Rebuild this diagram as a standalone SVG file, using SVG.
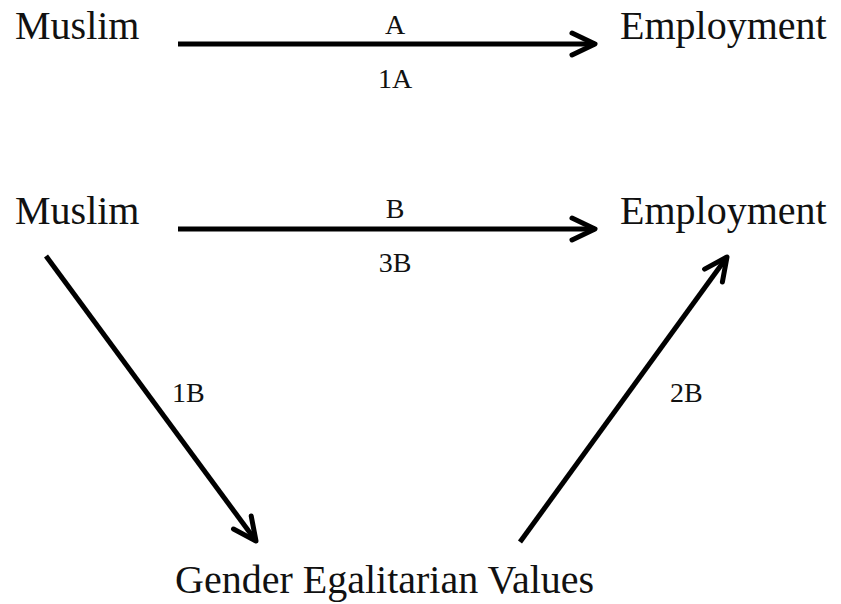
<svg xmlns="http://www.w3.org/2000/svg" width="841" height="604" viewBox="0 0 841 604">
<style>
.node{font-family:"Liberation Serif","Times New Roman",serif;font-size:40px;fill:#111;}
.lbl{font-family:"Liberation Serif","Times New Roman",serif;font-size:28px;fill:#111;}
.edge{stroke:#000;stroke-width:5;fill:none;marker-end:url(#arr);}
</style>
<defs>
<marker id="arr" markerUnits="userSpaceOnUse" markerWidth="40" markerHeight="40" viewBox="-30 -15 40 30" refX="0" refY="0" orient="auto" overflow="visible">
<path d="M-23,-11 L0,0 L-23,11" fill="none" stroke="#000" stroke-width="5" stroke-linecap="round" stroke-linejoin="round"/>
</marker>
</defs>
<rect width="841" height="604" fill="#fff"/>
<g id="connectors">
<line class="edge" x1="178" y1="44" x2="595" y2="44"/>
<line class="edge" x1="178" y1="229" x2="595" y2="229"/>
<line class="edge" x1="46" y1="256" x2="256" y2="541"/>
<line class="edge" x1="520" y1="542" x2="727" y2="257"/>
</g>
<g id="labels">
<text class="lbl" x="395" y="34" text-anchor="middle">A</text>
<text class="lbl" x="395" y="88" text-anchor="middle">1A</text>
<text class="lbl" x="395" y="218" text-anchor="middle">B</text>
<text class="lbl" x="395" y="272" text-anchor="middle">3B</text>
<text class="lbl" x="172" y="402">1B</text>
<text class="lbl" x="670" y="402">2B</text>
</g>
<g id="muslim1"><text class="node" x="15" y="39">Muslim</text></g>
<g id="employment1"><text class="node" x="620" y="39">Employment</text></g>
<g id="muslim2"><text class="node" x="15" y="224">Muslim</text></g>
<g id="employment2"><text class="node" x="620" y="224">Employment</text></g>
<g id="values"><text class="node" x="175" y="593">Gender Egalitarian Values</text></g>
</svg>
